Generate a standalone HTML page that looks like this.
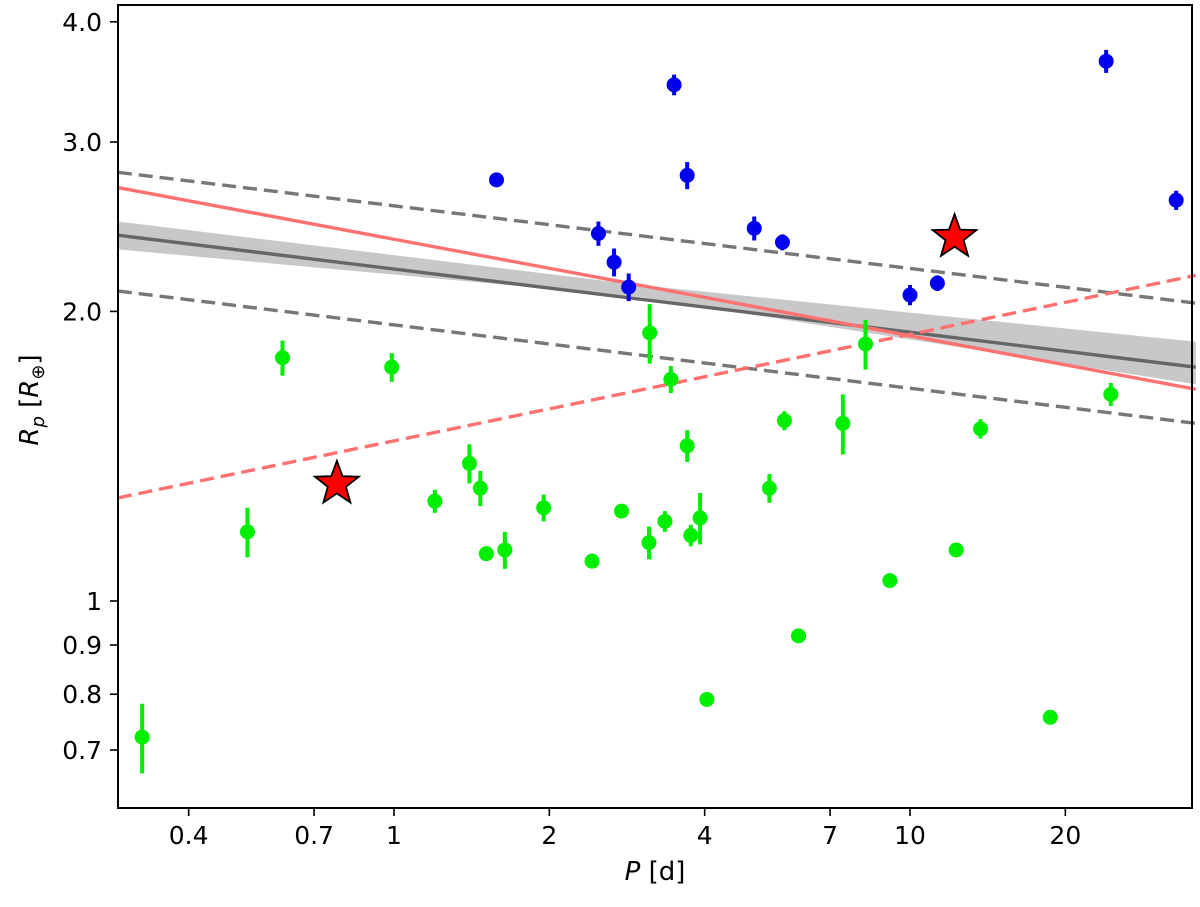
<!DOCTYPE html>
<html><head><meta charset="utf-8"><style>
body{margin:0;background:#fff;}
svg text{font-family:"DejaVu Sans","Liberation Sans",sans-serif;fill:#000;}
</style></head><body>
<svg id="chart" width="1200" height="902" viewBox="0 0 1200 902" xmlns="http://www.w3.org/2000/svg">
<g id="plot"></g>
</svg>
<script>
const blueP=[1.58,2.49,2.67,2.85,3.49,3.70,4.99,5.66,10.0,11.3,24.0,32.8];
const blueR=[2.74,2.41,2.25,2.12,3.44,2.77,2.44,2.36,2.08,2.14,3.64,2.61];
const blueE=[0,0.07,0.075,0.07,0.085,0.09,0.07,0.045,0.05,0.04,0.1,0.06];
const greenP=[0.325,0.52,0.608,0.99,1.20,1.40,1.47,1.51,1.64,1.95,2.42,2.76,3.12,3.13,3.35,3.44,3.70,3.76,3.92,4.04,5.34,5.71,6.08,7.41,8.20,9.14,12.29,13.7,18.7,24.5];
const greenR=[0.722,1.18,1.79,1.75,1.27,1.39,1.31,1.12,1.13,1.25,1.10,1.24,1.15,1.90,1.21,1.70,1.45,1.17,1.22,0.79,1.31,1.54,0.92,1.53,1.85,1.05,1.13,1.51,0.757,1.64];
const greenE=[0.06,0.07,0.075,0.06,0.035,0.065,0.055,0,0.05,0.04,0,0,0.045,0.135,0.03,0.055,0.055,0.03,0.075,0,0.045,0.035,0,0.11,0.11,0,0,0.035,0,0.045];
const starP=[0.775,12.2];
const starR=[1.33,2.40];
const fitEnds=[0.2917,35.8];
const fitMid=[2.40,1.75];
const fitUpper=[2.79,2.04];
const fitLower=[2.10,1.53];
const redSolid=[2.69,1.66];
const redDashed=[1.28,2.18];
const bandP=[0.2917,3.0,35.8];
const bandHi=[2.48,2.13,1.86];
const bandLo=[2.32,2.07,1.68];
const xTicks=[0.4,0.7,1,2,4,7,10,20];
const xTickLabels=["0.4","0.7","1","2","4","7","10","20"];
const yTicks=[4.0,3.0,2.0,1,0.9,0.8,0.7];
const yTickLabels=["4.0","3.0","2.0","1","0.9","0.8","0.7"];

const L=118,R=1192,T=5,B=808;
const xs=p=>394+516*Math.log10(p);
const ys=v=>601-962*Math.log10(v);
const NS="http://www.w3.org/2000/svg";
const g=document.getElementById('plot');
function mk(tag,attrs){const e=document.createElementNS(NS,tag);for(const k in attrs)e.setAttribute(k,attrs[k]);g.appendChild(e);return e;}

let pts=bandP.map((p,i)=>xs(p)+','+ys(bandHi[i])).concat(bandP.slice().reverse().map((p,j)=>{const i=bandP.length-1-j;return xs(p)+','+ys(bandLo[i]);}));
let band=mk('polygon',{points:pts.join(' '),fill:'#c8c8c8'});



function line(vals,color,dash,name,w){
  const e=mk('line',{x1:xs(fitEnds[0]),y1:ys(vals[0]),x2:xs(fitEnds[1]),y2:ys(vals[1]),stroke:color,'stroke-width':w||3.4});
  if(dash)e.setAttribute('stroke-dasharray',dash);
  
  
}
line(fitUpper,'#777','14,7','fit-upper-dashed');
line(fitLower,'#777','14,7','fit-lower-dashed');
line(fitMid,'#666',null,'fit-line');
line(redSolid,'#ff7070',null,'red-fit-line');
line(redDashed,'#ff7070','14,7','red-dashed-line');

function pointsDraw(P,Rv,E,color,name){
  P.forEach((p,i)=>{
    const x=xs(p),y=ys(Rv[i]);
    if(E[i]>0){
      const eb=mk('line',{x1:x,x2:x,y1:ys(Rv[i]+E[i]),y2:ys(Rv[i]-E[i]),stroke:color,'stroke-width':4});
      
      
    }
    const c=mk('circle',{cx:x,cy:y,r:7.5,fill:color});
    
    
  });
}
pointsDraw(blueP,blueR,blueE,'#0000ee','blue');
pointsDraw(greenP,greenR,greenE,'#00ee00','green');

starP.forEach((p,i)=>{
  const cx=xs(p),cy=ys(starR[i]);let s=[];
  for(let k=0;k<10;k++){const r=k%2?9.5:23;const a=-Math.PI/2+k*Math.PI/5;s.push((cx+r*Math.cos(a)).toFixed(1)+','+(cy+2+r*Math.sin(a)).toFixed(1));}
  const st=mk('polygon',{points:s.join(' '),fill:'#ff0000',stroke:'#000','stroke-width':1.8});
  
  
});

const fr=mk('rect',{x:L,y:T,width:R-L,height:B-T,fill:'none',stroke:'#000','stroke-width':2});



xTicks.forEach((t,i)=>{
  const x=xs(t);
  const tk=mk('line',{x1:x,x2:x,y1:B,y2:B+8,stroke:'#000','stroke-width':1.6});
  
  
  const tx=mk('text',{x:x,y:B+36,'text-anchor':'middle','font-size':25});
  tx.textContent=xTickLabels[i];
  
  
});
yTicks.forEach((t,i)=>{
  const y=ys(t);
  const tk=mk('line',{x1:L-8,x2:L,y1:y,y2:y,stroke:'#000','stroke-width':1.6});
  
  
  const tx=mk('text',{x:L-16,y:y+9,'text-anchor':'end','font-size':25});
  tx.textContent=yTickLabels[i];
  
  
});
</script>
<svg width="1200" height="902" style="position:absolute;left:0;top:0" xmlns="http://www.w3.org/2000/svg">
<text x="655" y="880" text-anchor="middle" font-size="26"><tspan font-style="italic">P</tspan> [d]</text>
<text transform="translate(38,400) rotate(-90)" text-anchor="middle" font-size="26"><tspan font-style="italic">R</tspan><tspan font-style="italic" font-size="18" dy="6">p</tspan><tspan dy="-6"> [</tspan><tspan font-style="italic">R</tspan><tspan font-size="18" dy="6">⊕</tspan><tspan dy="-6">]</tspan></text>
</svg>
</body></html>
